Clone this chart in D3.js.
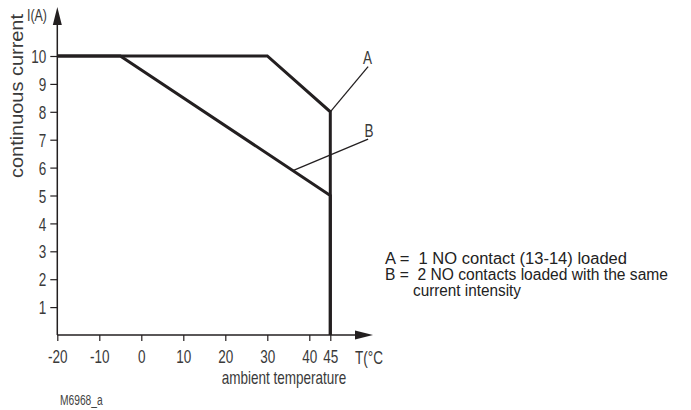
<!DOCTYPE html>
<html><head><meta charset="utf-8">
<script src="https://cdn.jsdelivr.net/npm/d3@7"></script>
<style>body{margin:0;background:#fff}svg{display:block}</style>
</head><body>
<svg id="c" width="691" height="410"></svg>
<script>
const xTicks = [-20, -10, 0, 10, 20, 30, 40, 45];
const yTicks = [1, 2, 3, 4, 5, 6, 7, 8, 9, 10];
const curveA = [[-20, 10], [30, 10], [45, 8], [45, 0]];
const curveB = [[-20, 10], [-5, 10], [45, 5], [45, 0]];
const leaderA = [[45, 8], [54.0, 9.62]];
const leaderB = [[36.1, 5.89], [54.0, 7.02]];
const legendLines = ["A =  1 NO contact (13-14) loaded", "B =  2 NO contacts loaded with the same", "current intensity"];

const svg = d3.select("#c");
const x = d3.scaleLinear().domain([-20, 45]).range([57.3, 330.3]);
const y = d3.scaleLinear().domain([0, 10]).range([335, 56]);
const sans = "'Liberation Sans',Arial,Helvetica,sans-serif";
const ink = "#231f20";
const txt = "#3a3a3a";
const CF = 0.73;

function condense(sel, f) {
  sel.each(function () {
    const w = this.getComputedTextLength();
    d3.select(this).attr("textLength", w * f).attr("lengthAdjust", "spacingAndGlyphs");
  });
}

// axes
const xAxis = d3.axisBottom(x).tickValues(xTicks).tickSize(6).tickPadding(4).tickFormat(d => String(d));
const gx = svg.append("g").attr("transform", `translate(0,${y(0)})`).call(xAxis);
gx.select(".domain").remove();
gx.selectAll("line").attr("stroke", ink).attr("stroke-width", 1.2);
gx.selectAll("text").attr("font-family", sans).attr("font-size", 18.5).attr("fill", txt).attr("dy", "0.95em");
condense(gx.selectAll("text"), CF);

const yAxis = d3.axisLeft(y).tickValues(yTicks).tickSize(7).tickPadding(4);
const gy = svg.append("g").attr("transform", `translate(${x(-20)},0)`).call(yAxis);
gy.select(".domain").remove();
gy.selectAll("line").attr("stroke", ink).attr("stroke-width", 1.2);
gy.selectAll("text").attr("font-family", sans).attr("font-size", 18.5).attr("fill", txt).attr("dy", "0.36em");
condense(gy.selectAll("text"), CF);

// axis lines with arrows
const x0 = x(-20), y0 = y(0);
svg.append("line").attr("x1", x0).attr("y1", y0).attr("x2", 360).attr("y2", y0).attr("stroke", ink).attr("stroke-width", 1.5);
svg.append("path").attr("d", `M373,${y0} L355,${y0 - 4.5} L355,${y0 + 4.5} Z`).attr("fill", ink);
svg.append("line").attr("x1", x0).attr("y1", y0).attr("x2", x0).attr("y2", 20).attr("stroke", ink).attr("stroke-width", 1.5);
svg.append("path").attr("d", `M${x0},7 L${x0 - 4.5},25 L${x0 + 4.5},25 Z`).attr("fill", ink);

// curves
const line = d3.line().x(d => x(d[0])).y(d => y(d[1]));
[curveA, curveB].forEach(c => svg.append("path").attr("d", line(c)).attr("fill", "none").attr("stroke", ink).attr("stroke-width", 3).attr("stroke-linejoin", "miter"));
[leaderA, leaderB].forEach(c => svg.append("path").attr("d", line(c)).attr("fill", "none").attr("stroke", ink).attr("stroke-width", 1.3));

// labels
const lab = [];
lab.push(svg.append("text").attr("x", 367.5).attr("y", 64).attr("text-anchor", "middle").attr("font-size", 18.5).text("A"));
lab.push(svg.append("text").attr("x", 369).attr("y", 137).attr("text-anchor", "middle").attr("font-size", 18.5).text("B"));
lab.push(svg.append("text").attr("x", 27).attr("y", 20.5).attr("font-size", 17).text("I(A)"));
lab.push(svg.append("text").attr("x", 355).attr("y", 363.5).attr("font-size", 18.5).text("T(°C"));
lab.push(svg.append("text").attr("x", 284).attr("y", 383.5).attr("text-anchor", "middle").attr("font-size", 18.5).text("ambient temperature"));
lab.push(svg.append("text").attr("x", 60).attr("y", 405).attr("font-size", 14).attr("fill", "#444").text("M6968_a"));
lab.forEach(s => { if (!s.attr("fill")) s.attr("fill", txt); s.attr("font-family", sans); condense(s, CF); });

svg.append("text").attr("transform", "translate(22.5,96) rotate(-90)").attr("text-anchor", "middle")
  .attr("font-family", sans).attr("font-size", 18.5).attr("fill", txt)
  .attr("textLength", 164).attr("lengthAdjust", "spacingAndGlyphs").text("continuous current");

const legendW = [242, 283, 108];
const legend = svg.append("g").attr("font-family", sans).attr("font-size", 16).attr("fill", "#222");
legend.selectAll("text").data(legendLines).join("text")
  .attr("x", (d, i) => i === 2 ? 413 : 385)
  .attr("y", (d, i) => 263.5 + i * 16)
  .attr("xml:space", "preserve").style("white-space", "pre")
  .attr("textLength", (d, i) => legendW[i]).attr("lengthAdjust", "spacingAndGlyphs")
  .text(d => d);
</script>
</body></html>
